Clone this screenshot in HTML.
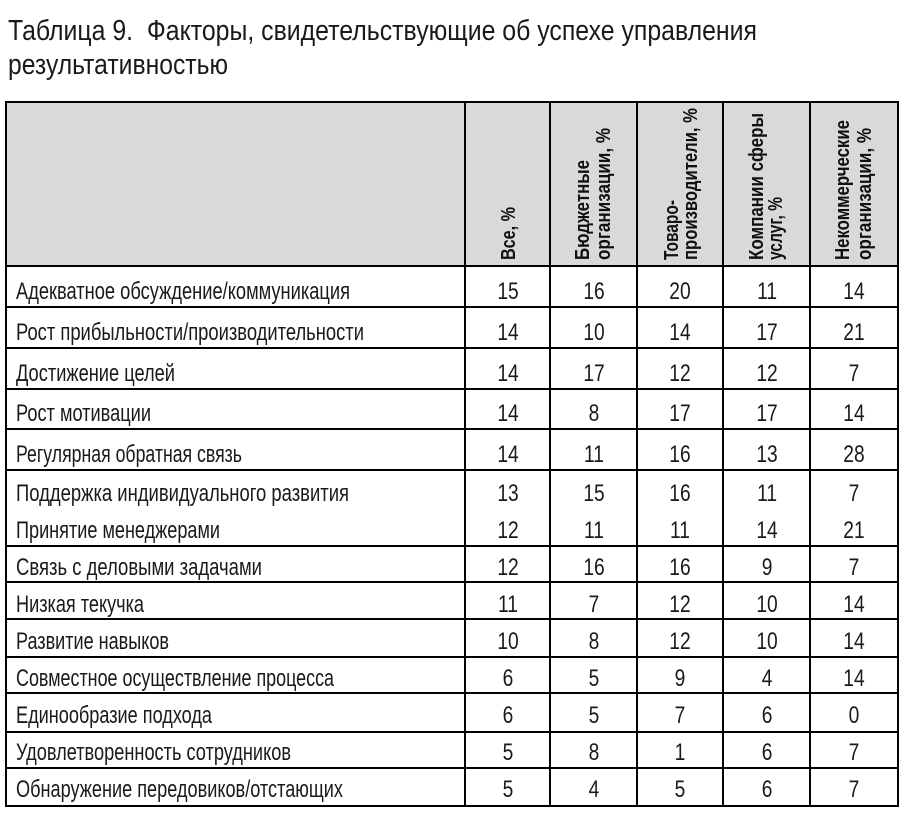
<!DOCTYPE html>
<html><head><meta charset="utf-8"><style>
html,body{margin:0;padding:0;background:#fff;}
svg{display:block;}
.t{font-family:"Liberation Sans","DejaVu Sans",sans-serif;fill:#1a1a1a;}
.h{font-family:"Liberation Sans","DejaVu Sans",sans-serif;font-weight:bold;font-size:20px;fill:#111;}
</style></head><body>
<svg width="905" height="822" viewBox="0 0 905 822" xmlns="http://www.w3.org/2000/svg">
<text class="t" x="8" y="40" font-size="29" textLength="749" lengthAdjust="spacingAndGlyphs" fill="#222" xml:space="preserve">Таблица 9.  Факторы, свидетельствующие об успехе управления</text>
<text class="t" x="8" y="74" font-size="29" textLength="220" lengthAdjust="spacingAndGlyphs" fill="#222">результативностью</text>

<rect x="6" y="102" width="892" height="164" fill="#d9d9d9"/>
<g stroke="#000" stroke-width="2" fill="none">
<rect x="6" y="102" width="892" height="704"/>
<line x1="465" y1="102" x2="465" y2="806"/><line x1="550" y1="102" x2="550" y2="806"/>
<line x1="637" y1="102" x2="637" y2="806"/><line x1="723" y1="102" x2="723" y2="806"/>
<line x1="810" y1="102" x2="810" y2="806"/>
<line x1="6" y1="266" x2="898" y2="266"/><line x1="6" y1="307" x2="898" y2="307"/>
<line x1="6" y1="348" x2="898" y2="348"/><line x1="6" y1="389" x2="898" y2="389"/>
<line x1="6" y1="429" x2="898" y2="429"/><line x1="6" y1="470" x2="898" y2="470"/>
<line x1="6" y1="546" x2="898" y2="546"/><line x1="6" y1="582" x2="898" y2="582"/>
<line x1="6" y1="619" x2="898" y2="619"/><line x1="6" y1="657" x2="898" y2="657"/>
<line x1="6" y1="693" x2="898" y2="693"/><line x1="6" y1="732" x2="898" y2="732"/>
<line x1="6" y1="768" x2="898" y2="768"/>
</g>

<g class="h">
<text transform="translate(515,260) rotate(-90)" textLength="53" lengthAdjust="spacingAndGlyphs">Все, %</text>
<text transform="translate(589,260) rotate(-90)" textLength="100" lengthAdjust="spacingAndGlyphs">Бюджетные</text>
<text transform="translate(610,260) rotate(-90)" textLength="132" lengthAdjust="spacingAndGlyphs">организации, %</text>
<text transform="translate(678,260) rotate(-90)" textLength="60" lengthAdjust="spacingAndGlyphs">Товаро-</text>
<text transform="translate(697,260) rotate(-90)" textLength="152" lengthAdjust="spacingAndGlyphs">производители, %</text>
<text transform="translate(763,260) rotate(-90)" textLength="147" lengthAdjust="spacingAndGlyphs">Компании сферы</text>
<text transform="translate(782,260) rotate(-90)" textLength="63" lengthAdjust="spacingAndGlyphs">услуг, %</text>
<text transform="translate(849,260) rotate(-90)" textLength="140" lengthAdjust="spacingAndGlyphs">Некоммерческие</text>
<text transform="translate(871,260) rotate(-90)" textLength="132" lengthAdjust="spacingAndGlyphs">организации, %</text>
</g>

<g class="t" font-size="24">
<text x="16" y="299" textLength="334" lengthAdjust="spacingAndGlyphs">Адекватное обсуждение/коммуникация</text>
<text x="16" y="340" textLength="348" lengthAdjust="spacingAndGlyphs">Рост прибыльности/производительности</text>
<text x="16" y="381" textLength="159" lengthAdjust="spacingAndGlyphs">Достижение целей</text>
<text x="16" y="421" textLength="135" lengthAdjust="spacingAndGlyphs">Рост мотивации</text>
<text x="16" y="462" textLength="226" lengthAdjust="spacingAndGlyphs">Регулярная обратная связь</text>
<text x="16" y="501" textLength="333" lengthAdjust="spacingAndGlyphs">Поддержка индивидуального развития</text>
<text x="16" y="538" textLength="204" lengthAdjust="spacingAndGlyphs">Принятие менеджерами</text>
<text x="16" y="575" textLength="246" lengthAdjust="spacingAndGlyphs">Связь с деловыми задачами</text>
<text x="16" y="612" textLength="128" lengthAdjust="spacingAndGlyphs">Низкая текучка</text>
<text x="16" y="649" textLength="153" lengthAdjust="spacingAndGlyphs">Развитие навыков</text>
<text x="16" y="686" textLength="318" lengthAdjust="spacingAndGlyphs">Совместное осуществление процесса</text>
<text x="16" y="723" textLength="196" lengthAdjust="spacingAndGlyphs">Единообразие подхода</text>
<text x="16" y="760" textLength="275" lengthAdjust="spacingAndGlyphs">Удовлетворенность сотрудников</text>
<text x="16" y="797" textLength="327" lengthAdjust="spacingAndGlyphs">Обнаружение передовиков/отстающих</text>
</g>

<g class="t" font-size="24" text-anchor="middle" transform="scale(0.8,1)">
<text x="635" y="299">15</text><text x="742.5" y="299">16</text><text x="850" y="299">20</text><text x="958.8" y="299">11</text><text x="1067.5" y="299">14</text>
<text x="635" y="340">14</text><text x="742.5" y="340">10</text><text x="850" y="340">14</text><text x="958.8" y="340">17</text><text x="1067.5" y="340">21</text>
<text x="635" y="381">14</text><text x="742.5" y="381">17</text><text x="850" y="381">12</text><text x="958.8" y="381">12</text><text x="1067.5" y="381">7</text>
<text x="635" y="421">14</text><text x="742.5" y="421">8</text><text x="850" y="421">17</text><text x="958.8" y="421">17</text><text x="1067.5" y="421">14</text>
<text x="635" y="462">14</text><text x="742.5" y="462">11</text><text x="850" y="462">16</text><text x="958.8" y="462">13</text><text x="1067.5" y="462">28</text>
<text x="635" y="501">13</text><text x="742.5" y="501">15</text><text x="850" y="501">16</text><text x="958.8" y="501">11</text><text x="1067.5" y="501">7</text>
<text x="635" y="538">12</text><text x="742.5" y="538">11</text><text x="850" y="538">11</text><text x="958.8" y="538">14</text><text x="1067.5" y="538">21</text>
<text x="635" y="575">12</text><text x="742.5" y="575">16</text><text x="850" y="575">16</text><text x="958.8" y="575">9</text><text x="1067.5" y="575">7</text>
<text x="635" y="612">11</text><text x="742.5" y="612">7</text><text x="850" y="612">12</text><text x="958.8" y="612">10</text><text x="1067.5" y="612">14</text>
<text x="635" y="649">10</text><text x="742.5" y="649">8</text><text x="850" y="649">12</text><text x="958.8" y="649">10</text><text x="1067.5" y="649">14</text>
<text x="635" y="686">6</text><text x="742.5" y="686">5</text><text x="850" y="686">9</text><text x="958.8" y="686">4</text><text x="1067.5" y="686">14</text>
<text x="635" y="723">6</text><text x="742.5" y="723">5</text><text x="850" y="723">7</text><text x="958.8" y="723">6</text><text x="1067.5" y="723">0</text>
<text x="635" y="760">5</text><text x="742.5" y="760">8</text><text x="850" y="760">1</text><text x="958.8" y="760">6</text><text x="1067.5" y="760">7</text>
<text x="635" y="797">5</text><text x="742.5" y="797">4</text><text x="850" y="797">5</text><text x="958.8" y="797">6</text><text x="1067.5" y="797">7</text>
</g>
</svg>
</body></html>
